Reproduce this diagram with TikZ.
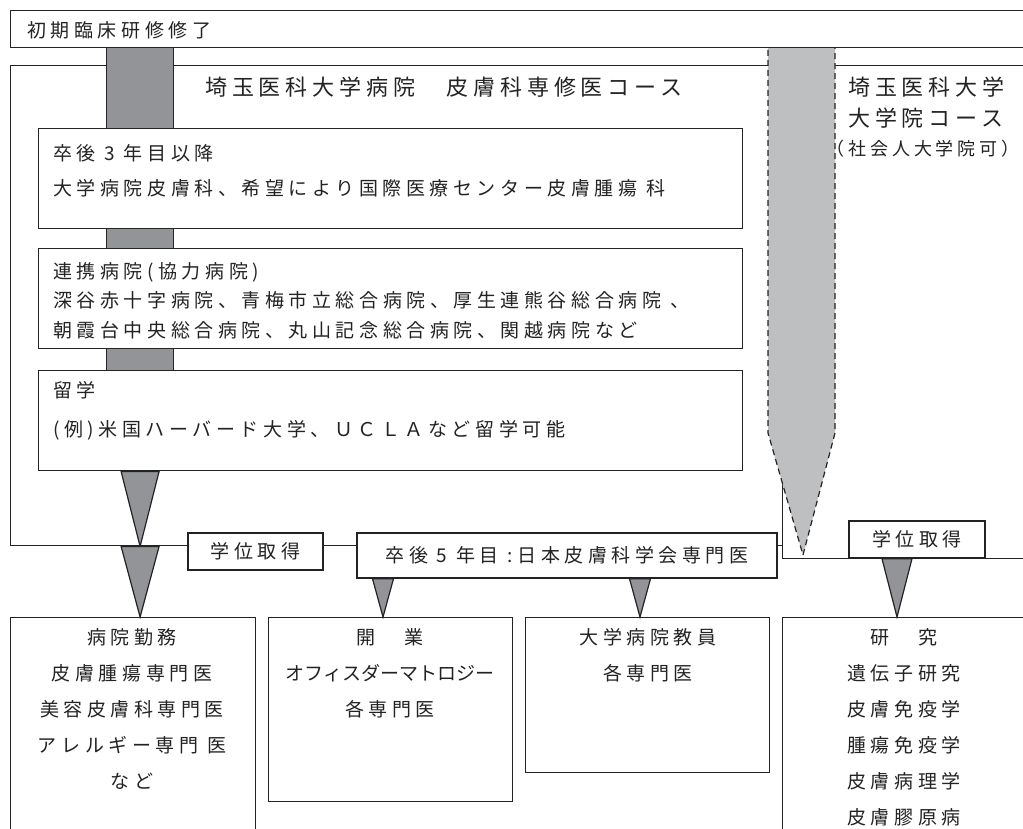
\documentclass[tikz,border=0pt]{standalone}
\usepackage{fontspec}
\setmainfont{Noto Sans CJK JP}
\newfontfamily\jpbody[LetterSpace=24]{Noto Sans CJK JP}
\newfontfamily\jphead[LetterSpace=22]{Noto Sans CJK JP}
\definecolor{spinegray}{RGB}{147,148,152}
\definecolor{gradgray}{RGB}{190,191,193}
\definecolor{ink}{RGB}{35,35,35}

\begin{document}
\begin{tikzpicture}[x=1pt,y=-1pt,
  frame/.style={draw=ink,line width=1.4pt,fill=white,inner sep=0pt,text=ink,font=\jpbody\fontsize{19}{23}\selectfont},
  lbl/.style={inner sep=0pt,text=ink,anchor=west,font=\jpbody\fontsize{19}{23}\selectfont},
  para/.style={inner sep=0pt,text=ink,align=center,anchor=north,font=\jpbody\fontsize{19}{36}\selectfont},
  head/.style={inner sep=0pt,text=ink,anchor=west,font=\jphead\fontsize{22}{30}\selectfont},
  wedge/.style={fill=spinegray,draw=ink,line width=1.2pt}]

\useasboundingbox (0,0) rectangle (1023,829);
\clip (0,0) rectangle (1023,829);

% the two courses
\node[frame,anchor=north west,minimum width=772pt,minimum height=480pt] (course) at (10,65) {};
\node[frame,anchor=north west,minimum width=260pt,minimum height=493pt] (grad) at (782,65) {};

% graduate school path
\coordinate (gradtip) at (803,555);
\filldraw[fill=gradgray,draw=ink,line width=1.2pt,dash pattern=on 6pt off 4pt] (768,40) -- (768,433) -- (gradtip) -- (835,433) -- (835,40);

% residency path
\node[draw=ink,fill=spinegray,line width=1.2pt,inner sep=0pt,anchor=north west,minimum width=67pt,minimum height=360pt] (spine) at (106,40) {};

\node[frame,anchor=north west,minimum width=1030pt,minimum height=37pt] (start) at (10,10) {};
\node[lbl] (starttext) at (27,30) {初期臨床研修修了};

\node[head] (coursehead) at (205,87) {埼玉医科大学病院　皮膚科専修医コース};
\node[head] (gradhead) at (848,87) {埼玉医科大学};
\node[head] (gradhead2) at (848,118) {大学院コース};
\node[head,font=\jphead\fontsize{18}{24}\selectfont] (gradnote) at (826,149) {（社会人大学院可）};

% stages
\node[frame,anchor=north west,minimum width=704pt,minimum height=100pt] (year3) at (38,128) {};
\node[lbl] (year3a) at (53,153) {卒後 3 年目以降};
\node[lbl] (year3b) at (53,188) {大学病院皮膚科、希望により国際医療センター皮膚腫瘍 科};

\node[frame,anchor=north west,minimum width=704pt,minimum height=100pt] (partner) at (38,248) {};
\node[lbl] (partnera) at (53,272) {連携病院(協力病院)};
\node[lbl] (partnerb) at (53,300) {深谷赤十字病院、青梅市立総合病院、厚生連熊谷総合病院 、};
\node[lbl] (partnerc) at (53,330) {朝霞台中央総合病院、丸山記念総合病院、関越病院など};

\node[frame,anchor=north west,minimum width=704pt,minimum height=100pt] (abroad) at (38,370) {};
\node[lbl] (abroada) at (53,390) {留学};
\node[lbl] (abroadb) at (53,430) {(例)米国ハーバード大学、ＵＣＬＡなど留学可能};

% careers
\node[frame,anchor=north west,minimum width=245pt,minimum height=240pt] (hosp) at (10,617) {};
\node[frame,anchor=north west,minimum width=244pt,minimum height=184pt] (office) at (268,617) {};
\node[frame,anchor=north west,minimum width=244pt,minimum height=155pt] (faculty) at (525,617) {};
\node[frame,anchor=north west,minimum width=260pt,minimum height=240pt] (research) at (782,617) {};

\node[para] (hosptext) at (132,628) {病院勤務\\皮膚腫瘍専門医\\美容皮膚科専門医\\アレルギー専門 医\\など};
\node[para] (officetext) at (390,628) {開　業\\{\rmfamily オフィスダーマトロジー}\\各専門医};
\node[para] (facultytext) at (648,628) {大学病院教員\\各専門医};
\node[para] (researchtext) at (904,628) {研　究\\遺伝子研究\\皮膚免疫学\\腫瘍免疫学\\皮膚病理学\\皮膚膠原病};

% wedges
\draw[wedge] (spine.center |- abroad.south) ++(-19,0) -- ++(38,0) -- (spine.center |- course.south) -- cycle;
\draw[wedge] (spine.center |- course.south) ++(-19,0) -- ++(38,0) -- (spine.center |- hosp.north) -- cycle;

\node[frame,minimum width=135pt,minimum height=37pt] (degree) at (255.5,551.5) {学位取得};
\node[frame,minimum width=420pt,minimum height=45pt] (specialist) at (567,555.5) {卒後 5 年目 :日本皮膚科学会専門医};
\node[frame,minimum width=136pt,minimum height=37pt] (gradegree) at (917,539.5) {学位取得};

\coordinate (tipoffice) at (383,617);
\coordinate (tipfaculty) at (640,617);
\coordinate (tipresearch) at (897,617);
\draw[wedge] (tipoffice |- specialist.south) ++(-10.5,0) -- ++(21,0) -- (tipoffice) -- cycle;
\draw[wedge] (tipfaculty |- specialist.south) ++(-10.5,0) -- ++(21,0) -- (tipfaculty) -- cycle;
\draw[wedge] (tipresearch |- gradegree.south) ++(-15,0) -- ++(30,0) -- (tipresearch) -- cycle;
\end{tikzpicture}
\end{document}
